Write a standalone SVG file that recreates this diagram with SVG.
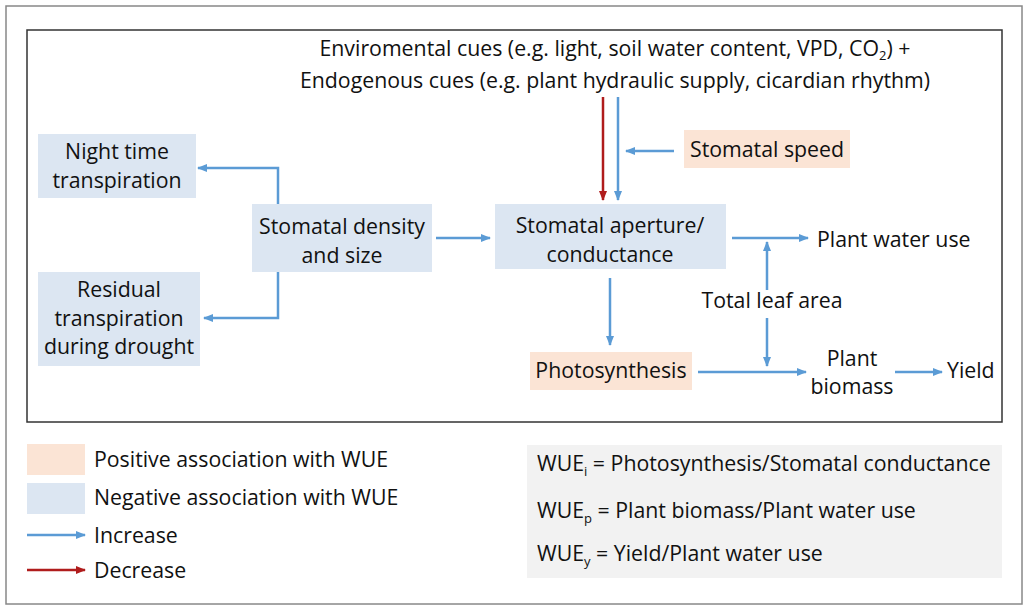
<svg xmlns="http://www.w3.org/2000/svg" width="1030" height="610" viewBox="0 0 1030 610">
<style>
text{font-family:"Open Sans","Liberation Sans",sans-serif;font-size:21.3px;fill:#111}
.m{text-anchor:middle}
.neg{fill:#dce6f2}
.pos{fill:#fbe4d5}
.b{stroke:#5b9bd5;stroke-width:2.5;fill:none;marker-end:url(#ab)}
.r{stroke:#b01c1c;stroke-width:2.5;fill:none;marker-end:url(#ar)}
</style>
<defs>
<marker id="ab" markerWidth="10" markerHeight="8" refX="9" refY="4" orient="auto" markerUnits="userSpaceOnUse"><path d="M0,0L10,4L0,8z" fill="#5b9bd5"/></marker>
<marker id="ar" markerWidth="10" markerHeight="8" refX="9" refY="4" orient="auto" markerUnits="userSpaceOnUse"><path d="M0,0L10,4L0,8z" fill="#b01c1c"/></marker>
</defs>
<rect x="0" y="0" width="1030" height="610" fill="#fff"/>
<rect x="6" y="6" width="1016" height="598" fill="none" stroke="#888" stroke-width="1.5"/>
<rect x="27" y="30" width="975" height="392" fill="none" stroke="#333" stroke-width="1.5"/>
<g id="cues"><text class="m" x="615" y="56">Enviromental cues (e.g. light, soil water content, VPD, CO<tspan font-size="13" dy="4">2</tspan><tspan dy="-4">) +</tspan></text><text class="m" x="615" y="88">Endogenous cues (e.g. plant hydraulic supply, cicardian rhythm)</text></g>
<g id="night"><rect class="neg" x="38" y="134" width="158" height="64"/><text class="m" x="117" y="159">Night time</text><text class="m" x="117" y="188">transpiration</text></g>
<g id="residual"><rect class="neg" x="38" y="272" width="162" height="94"/><text class="m" x="119" y="297">Residual</text><text class="m" x="119" y="326">transpiration</text><text class="m" x="119" y="354">during drought</text></g>
<g id="density"><rect class="neg" x="252" y="204" width="180" height="68"/><text class="m" x="342" y="234">Stomatal density</text><text class="m" x="342" y="263">and size</text></g>
<g id="aperture"><rect class="neg" x="495" y="204" width="231" height="65"/><text class="m" x="610" y="233">Stomatal aperture/</text><text class="m" x="610" y="262">conductance</text></g>
<g id="speed"><rect class="pos" x="684" y="130" width="166" height="38"/><text class="m" x="767" y="157">Stomatal speed</text></g>
<g id="photo"><rect class="pos" x="530" y="352" width="162" height="38"/><text class="m" x="611" y="378">Photosynthesis</text></g>
<g id="wateruse"><text x="817" y="247">Plant water use</text></g>
<g id="leafarea"><text class="m" x="772" y="308">Total leaf area</text></g>
<g id="biomass"><text class="m" x="852" y="366">Plant</text><text class="m" x="852" y="394">biomass</text></g>
<g id="yield"><text x="947" y="378">Yield</text></g>
<g id="connectors">
<path class="r" d="M603,97V200"/>
<path class="b" d="M618,97V200"/>
<path class="b" d="M674,151H626"/>
<path class="b" d="M278,204V168H198"/>
<path class="b" d="M278,272V318H204"/>
<path class="b" d="M436,238H490"/>
<path class="b" d="M732,238H808"/>
<path class="b" d="M767,290V242"/>
<path class="b" d="M767,318V366"/>
<path class="b" d="M610,278V345"/>
<path class="b" d="M698,372H806"/>
<path class="b" d="M895,372H942"/>
</g>
<g id="legend">
<rect class="pos" x="27" y="444" width="58" height="31"/><text x="94" y="467">Positive association with WUE</text>
<rect class="neg" x="27" y="483" width="58" height="31"/><text x="94" y="505">Negative association with WUE</text>
<path class="b" d="M27,535H85"/><text x="94" y="543">Increase</text>
<path class="r" d="M27,570H85"/><text x="94" y="578">Decrease</text>
</g>
<g id="formulas">
<rect x="527" y="445" width="475" height="133" fill="#f2f2f2"/>
<text x="537" y="471">WUE<tspan font-size="13" dy="5">i</tspan><tspan dy="-5"> = Photosynthesis/Stomatal conductance</tspan></text>
<text x="537" y="518">WUE<tspan font-size="13" dy="5">p</tspan><tspan dy="-5"> = Plant biomass/Plant water use</tspan></text>
<text x="537" y="561">WUE<tspan font-size="13" dy="5">y</tspan><tspan dy="-5"> = Yield/Plant water use</tspan></text>
</g>
</svg>
